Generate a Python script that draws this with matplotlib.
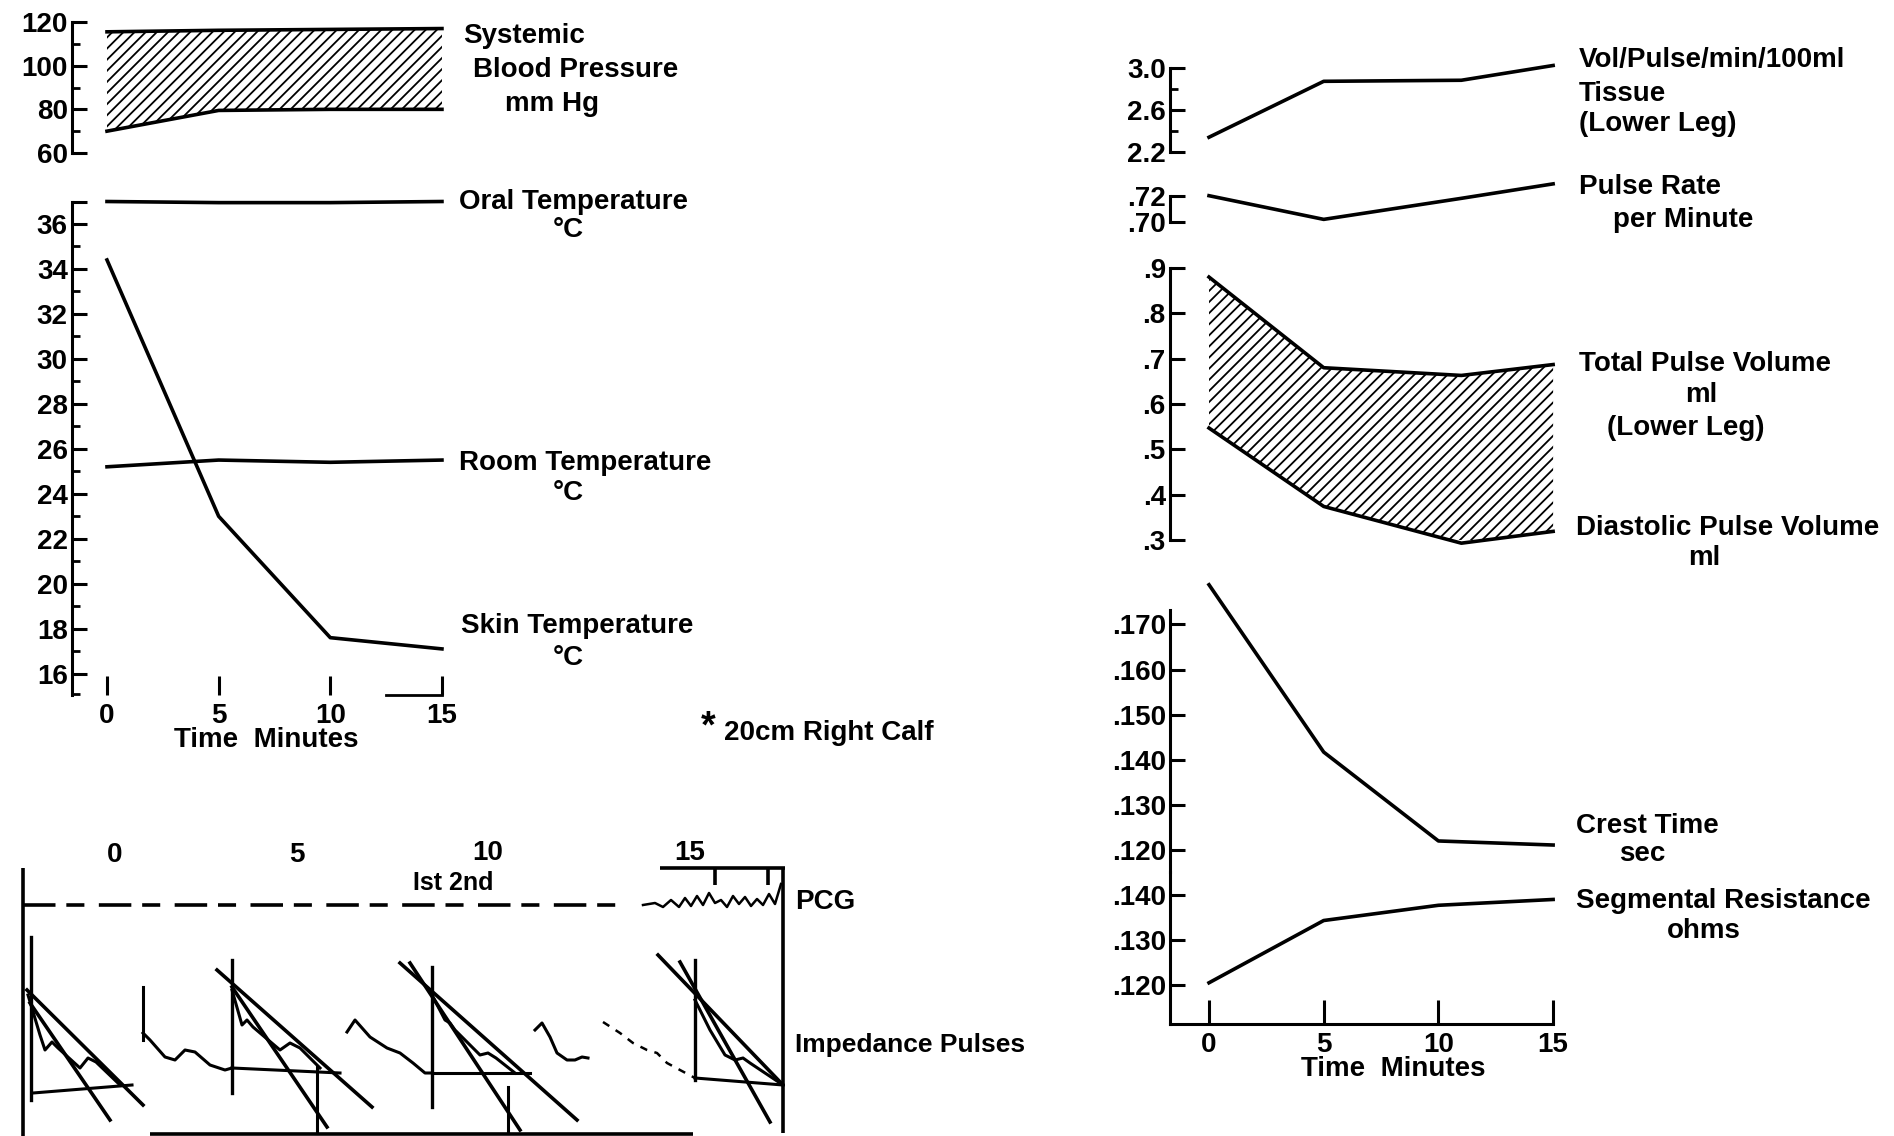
import matplotlib
matplotlib.use("Agg")
import matplotlib.pyplot as plt

# ---------------- data ----------------
time = [0, 5, 10, 15]
time_upper = [0, 5, 11, 15]          # kinks of the upper-right curves sit near 11 min

bp_systolic = [115.5, 116.2, 116.6, 117.0]
bp_diastolic = [70.0, 79.5, 80.0, 80.0]
oral_temp = [37.0, 36.95, 36.95, 37.0]
room_temp = [25.2, 25.5, 25.4, 25.5]
skin_temp = [34.4, 23.0, 17.6, 17.1]

vol_pulse = [2.34, 2.87, 2.88, 3.02]
pulse_rate = [0.720, 0.702, 0.718, 0.729]
total_pulse_vol = [0.88, 0.68, 0.663, 0.687]
diastolic_pulse_vol = [0.547, 0.374, 0.293, 0.319]
crest_time = [0.1788, 0.1417, 0.1220, 0.1211]
seg_resistance = [0.1204, 0.1343, 0.1377, 0.1390]

bp_ticks = [60, 80, 100, 120]
temp_ticks = [16, 18, 20, 22, 24, 26, 28, 30, 32, 34, 36]
vol_ticks = [2.2, 2.6, 3.0]
rate_ticks = [0.70, 0.72]
pv_ticks = [0.3, 0.4, 0.5, 0.6, 0.7, 0.8, 0.9]
crest_ticks = [0.120, 0.130, 0.140, 0.150, 0.160, 0.170]
seg_ticks = [0.120, 0.130, 0.140]
time_ticks = [0, 5, 10, 15]

# impedance / PCG tracing (paper units: x along record, y amplitude)
marker_x = [8, 209, 409, 672]
marker_top = [199, 176, 169, 176]
marker_bot = [36, 43, 29, 56]
tangent1_x = [[4, 120], [194, 349], [377, 554], [635, 760]]
tangent1_y = [[146, 31], [166, 29], [173, 16], [181, 51]]
tangent2_x = [[7, 87], [209, 304], [387, 497], [657, 747]]
tangent2_y = [[133, 16], [149, 9], [173, 6], [174, 14]]
base_x = [[10, 109], [209, 317], [409, 507], [672, 760]]
base_y = [[43, 51], [68, 63], [63, 63], [58, 51]]
second_marker_x = [120, 294, 485]
second_marker_y = [[96, 149], [3, 69], [3, 49]]
wave_x = [[5, 17, 22, 29, 35, 57, 65, 73, 97],
          [120, 127, 142, 152, 162, 172, 187, 202, 209],
          [209, 219, 224, 230, 257, 267, 277, 297],
          [324, 332, 347, 364, 377, 390, 402, 409],
          [409, 422, 427, 432, 457, 465, 473, 492],
          [512, 519, 527, 534, 544, 552, 559, 565],
          [672, 687, 702, 712, 720, 727, 760]]
wave_y = [[141, 101, 86, 94, 88, 68, 78, 74, 51],
          [103, 96, 79, 76, 86, 84, 71, 66, 68],
          [146, 111, 116, 109, 86, 93, 88, 68],
          [104, 116, 99, 88, 83, 73, 63, 63],
          [141, 116, 113, 106, 81, 83, 78, 63],
          [106, 113, 99, 83, 76, 76, 79, 78],
          [136, 106, 81, 76, 78, 73, 51]]
faint_wave_x = [580, 597, 610, 624, 634, 644, 657, 672]
faint_wave_y = [114, 103, 93, 86, 83, 73, 66, 58]
pcg_base_x = [0, 600]
pcg_base_y = [231, 231]
pcg_sq_x = [620, 632, 640, 648, 656, 662, 668, 674, 680, 686, 692, 698, 704,
            710, 716, 722, 728, 734, 740, 746, 752, 758]
pcg_sq_y = [231, 233, 229, 236, 229, 238, 230, 240, 231, 243, 233, 236, 229,
            240, 232, 239, 230, 237, 231, 242, 232, 252]
frame_x = [[0, 0], [760, 760], [637, 762], [692, 692], [745, 745], [127, 670]]
frame_y = [[0, 268], [3, 268], [268, 268], [268, 251], [268, 251], [2, 2]]

# ---------------- figure ----------------
W, H, DPI = 1894, 1136, 100
plt.rcParams["font.family"] = ["Liberation Sans", "DejaVu Sans"]
plt.rcParams["font.weight"] = "bold"
plt.rcParams["hatch.linewidth"] = 1.3
plt.rcParams["hatch.color"] = "black"

fig = plt.figure(figsize=(W / DPI, H / DPI), dpi=DPI)
fig.patch.set_facecolor("white")

LW = 2.6
FS = 20


def px_axes(left, right, top, bottom):
    return fig.add_axes([left / W, 1 - bottom / H, (right - left) / W, (bottom - top) / H])


def ftext(x, y, s, size=FS, ha="left"):
    fig.text(x / W, 1 - y / H, s, va="center", ha=ha, fontsize=size, fontweight="bold")


def style_y(ax, major, labels, minor=(), bottom_axis=False):
    for s in ["top", "right"]:
        ax.spines[s].set_visible(False)
    if not bottom_axis:
        ax.spines["bottom"].set_visible(False)
        ax.set_xticks([])
    ax.spines["left"].set_linewidth(2.2)
    ax.set_yticks(major)
    ax.set_yticklabels(labels)
    ax.set_yticks(list(minor), minor=True)
    ax.tick_params(axis="y", which="major", direction="in", length=11, width=2.2,
                   pad=3, labelsize=FS)
    ax.tick_params(axis="y", which="minor", direction="in", length=6, width=2)
    ax.patch.set_visible(False)


# ---- left: blood pressure ----
xl_left = (-1.567, 15.36)
axB = px_axes(72, 450, 22, 153)
axB.set_xlim(*xl_left)
axB.set_ylim(60, 120)
axB.fill_between(time, bp_diastolic, bp_systolic, facecolor="none", hatch="///",
                 edgecolor="black", linewidth=0)
axB.plot(time, bp_systolic, color="black", lw=LW, clip_on=False)
axB.plot(time, bp_diastolic, color="black", lw=LW, clip_on=False)
style_y(axB, bp_ticks, [str(v) for v in bp_ticks], minor=[70, 90, 110])

# ---- left: temperatures ----
axT = px_axes(72, 450, 201.5, 695)
axT.set_xlim(*xl_left)
axT.set_ylim(15.05, 37.0)
for series in (oral_temp, room_temp, skin_temp):
    axT.plot(time, series, color="black", lw=LW, clip_on=False)
style_y(axT, temp_ticks + [37.0], [str(v) for v in temp_ticks] + [""],
        minor=[15.1, 17, 19, 21, 23, 25, 27, 29, 31, 33, 35], bottom_axis=True)
axT.set_xticks(time_ticks)
axT.set_xticklabels([str(v) for v in time_ticks])
axT.tick_params(axis="x", direction="in", length=14, width=2.2, pad=6, labelsize=FS)
axT.spines["bottom"].set_bounds(12.5, 15)
axT.spines["bottom"].set_linewidth(2)
ftext(266, 740, "Time  Minutes", ha="center")

ftext(463, 36, "Systemic")
ftext(473, 70, "Blood Pressure")
ftext(505, 104, "mm Hg")
ftext(459, 202, "Oral Temperature")
ftext(553, 230, "°C")
ftext(459, 463, "Room Temperature")
ftext(553, 493, "°C")
ftext(461, 626, "Skin Temperature")
ftext(553, 658, "°C")
ftext(701, 727, "*", size=27)
ftext(724, 733, "20cm Right Calf")

# ---- right panels ----
xl_right = (-1.70, 15.3)
axV = px_axes(1170, 1560, 67.6, 152)
axV.set_xlim(*xl_right)
axV.set_ylim(2.2, 3.0)
axV.plot(time_upper, vol_pulse, color="black", lw=LW, clip_on=False)
style_y(axV, vol_ticks, ["2.2", "2.6", "3.0"], minor=[2.4, 2.8])

axR = px_axes(1170, 1560, 195.7, 222)
axR.set_xlim(*xl_right)
axR.set_ylim(0.70, 0.72)
axR.plot(time_upper, pulse_rate, color="black", lw=LW, clip_on=False)
style_y(axR, rate_ticks, [".70", ".72"])

axP = px_axes(1170, 1560, 268, 540)
axP.set_xlim(*xl_right)
axP.set_ylim(0.3, 0.9)
axP.fill_between(time_upper, diastolic_pulse_vol, total_pulse_vol, facecolor="none",
                 hatch="///", edgecolor="black", linewidth=0)
axP.plot(time_upper, total_pulse_vol, color="black", lw=LW, clip_on=False)
axP.plot(time_upper, diastolic_pulse_vol, color="black", lw=LW, clip_on=False)
style_y(axP, pv_ticks, [("%.1f" % v)[1:] for v in pv_ticks])

axC = px_axes(1170, 1560, 610, 872)
axC.set_xlim(*xl_right)
axC.set_ylim(0.11512, 0.1732)
axC.plot(time, crest_time, color="black", lw=LW, clip_on=False)
style_y(axC, crest_ticks, [("%.3f" % v)[1:] for v in crest_ticks])

axS = px_axes(1170, 1560, 872, 1024)
axS.set_xlim(*xl_right)
axS.set_ylim(0.1112, 0.14513)
axS.plot(time, seg_resistance, color="black", lw=LW, clip_on=False)
style_y(axS, seg_ticks, [("%.3f" % v)[1:] for v in seg_ticks], bottom_axis=True)
axS.set_xticks(time_ticks)
axS.set_xticklabels([str(v) for v in time_ticks])
axS.tick_params(axis="x", direction="in", length=17, width=2.2, pad=6, labelsize=FS)
axS.spines["bottom"].set_bounds(xl_right[0], 15)
axS.spines["bottom"].set_linewidth(2.2)
ftext(1393, 1069, "Time  Minutes", ha="center")

ftext(1579, 60, "Vol/Pulse/min/100ml")
ftext(1579, 94, "Tissue")
ftext(1579, 124, "(Lower Leg)")
ftext(1579, 187, "Pulse Rate")
ftext(1613, 220, "per Minute")
ftext(1579, 364, "Total Pulse Volume")
ftext(1685, 395, "ml")
ftext(1607, 428, "(Lower Leg)")
ftext(1576, 528, "Diastolic Pulse Volume")
ftext(1688, 558, "ml")
ftext(1576, 826, "Crest Time")
ftext(1619, 854, "sec")
ftext(1576, 901, "Segmental Resistance")
ftext(1667, 931, "ohms")

# ---- bottom-left: PCG and impedance pulse tracing ----
axI = px_axes(23, 785, 840, 1136)
axI.set_xlim(0, 762)
axI.set_ylim(0, 296)
axI.axis("off")
for fx, fy in zip(frame_x, frame_y):
    axI.plot(fx, fy, color="black", lw=2.6, clip_on=False, solid_capstyle="butt")
axI.plot(pcg_base_x, pcg_base_y, color="black", lw=2.6, dashes=(9, 3, 5, 4))
axI.plot(pcg_sq_x, pcg_sq_y, color="black", lw=1.8)
for i in range(len(marker_x)):
    axI.plot([marker_x[i], marker_x[i]], [marker_bot[i], marker_top[i]], color="black", lw=2.4)
    axI.plot(tangent1_x[i], tangent1_y[i], color="black", lw=2.6)
    axI.plot(tangent2_x[i], tangent2_y[i], color="black", lw=2.6)
    axI.plot(base_x[i], base_y[i], color="black", lw=2.2)
for mx, my in zip(second_marker_x, second_marker_y):
    axI.plot([mx, mx], my, color="black", lw=2.2)
for wx, wy in zip(wave_x, wave_y):
    axI.plot(wx, wy, color="black", lw=2.2)
axI.plot(faint_wave_x, faint_wave_y, color="black", lw=1.8, dashes=(3, 3))

ftext(115, 855, "0", ha="center")
ftext(297, 855, "5", ha="center")
ftext(488, 853, "10", ha="center")
ftext(690, 853, "15", ha="center")
ftext(453, 883, "Ist 2nd", size=18, ha="center")
ftext(795, 902, "PCG")
ftext(795, 1045, "Impedance Pulses", size=19)

fig.savefig("out.png", dpi=DPI, facecolor="white")
